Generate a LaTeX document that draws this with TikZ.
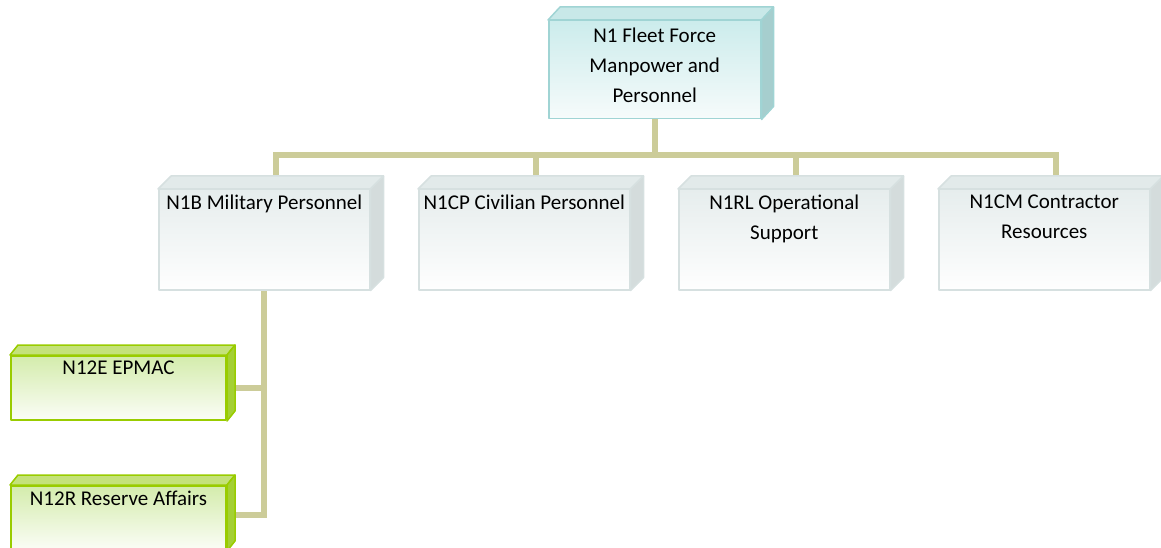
\documentclass[tikz,border=0pt]{standalone}
\usepackage{fontspec}
\setmainfont{Carlito}
\usetikzlibrary{positioning,calc,backgrounds}

\definecolor{bus}{RGB}{204,204,153}
\definecolor{edgecyan}{RGB}{160,212,212}
\definecolor{lidcyan}{RGB}{200,232,232}
\definecolor{sidecyan}{RGB}{166,206,206}
\definecolor{topcyan}{RGB}{204,236,236}
\definecolor{botcyan}{RGB}{246,251,251}
\definecolor{edgegrey}{RGB}{214,224,224}
\definecolor{lidgrey}{RGB}{226,234,234}
\definecolor{sidegrey}{RGB}{212,220,220}
\definecolor{topgrey}{RGB}{230,237,237}
\definecolor{botgrey}{RGB}{254,254,254}
\definecolor{edgegreen}{RGB}{153,204,0}
\definecolor{lidgreen}{RGB}{196,226,122}
\definecolor{sidegreen}{RGB}{164,208,52}
\definecolor{topgreen}{RGB}{212,236,172}
\definecolor{botgreen}{RGB}{251,253,247}

\begin{document}
\begin{tikzpicture}[x=1pt, y=-1pt, line join=round,
  front/.style={draw, line width=1.5pt, anchor=north west, inner sep=0pt,
    minimum width=211pt, minimum height=100pt},
  cyanbox/.style={front, draw=edgecyan, top color=topcyan, bottom color=botcyan,
    minimum width=212pt, minimum height=98pt},
  greybox/.style={front, draw=edgegrey, top color=topgrey, bottom color=botgrey},
  greenbox/.style={front, draw=edgegreen, line width=2pt, top color=topgreen,
    bottom color=botgreen, minimum width=215pt, minimum height=64pt},
  txt/.style={font=\fontsize{21}{30}\selectfont, align=center, inner sep=0pt},
  link/.style={draw=bus, line width=6pt, line join=miter}]
\useasboundingbox (0,0) rectangle (1161,548);

\node[cyanbox]  (top) at (548,20)  {};
\node[greybox]  (b1)  at (158,189) {};
\node[greybox]  (b2)  at (418,189) {};
\node[greybox]  (b3)  at (678,189) {};
\node[greybox]  (b4)  at (938,189) {};
\node[greenbox] (g1)  at (10,355)  {};
\node[greenbox] (g2)  at (10,485)  {};

\foreach \n/\c/\dx/\dy in {top/cyan/12/13, b1/grey/13/13, b2/grey/13/13,
    b3/grey/13/13, b4/grey/13/13, g1/green/8/10, g2/green/8/10} {
  \filldraw[draw=edge\c, fill=lid\c, line width=1.5pt]
    (\n.north west) -- ++(\dx,-\dy) -- ($(\n.north east)+(\dx,-\dy)$) -- (\n.north east) -- cycle;
  \filldraw[draw=edge\c, fill=side\c, line width=1.5pt]
    (\n.north east) -- ++(\dx,-\dy) -- ($(\n.south east)+(\dx,-\dy)$) -- (\n.south east) -- cycle;
}

\node[txt] (toplbl) at ($(top.center)+(0,-4)$) {N1 Fleet Force\\Manpower and\\Personnel};
\node[txt, below=6pt of b1.north] (b1lbl) {N1B Military Personnel};
\node[txt, below=6pt of b2.north] (b2lbl) {N1CP Civilian Personnel};
\node[txt, below=6pt of b3.north] (b3lbl) {N1RL Operational\\Support};
\node[txt, below=6pt of b4.north] (b4lbl) {N1CM Contractor\\Resources};
\node[txt, below=6pt of g1.north] (g1lbl) {N12E EPMAC};
\node[txt, below=6pt of g2.north] (g2lbl) {N12R Reserve Affairs};

\begin{scope}[on background layer]
\coordinate (bus) at ($(top.south)+(0,36)$);
\draw[link] (top.south) -- (bus);
\foreach \n in {b1,b2,b3,b4}
  \draw[link] (bus) -| ($(\n.north)+(12,-13)$);
\draw[link] (b1.south) |- (g1.east);
\draw[link] (b1.south) |- ($(g2.east)+(0,-3)$);
\end{scope}
\end{tikzpicture}
\end{document}
